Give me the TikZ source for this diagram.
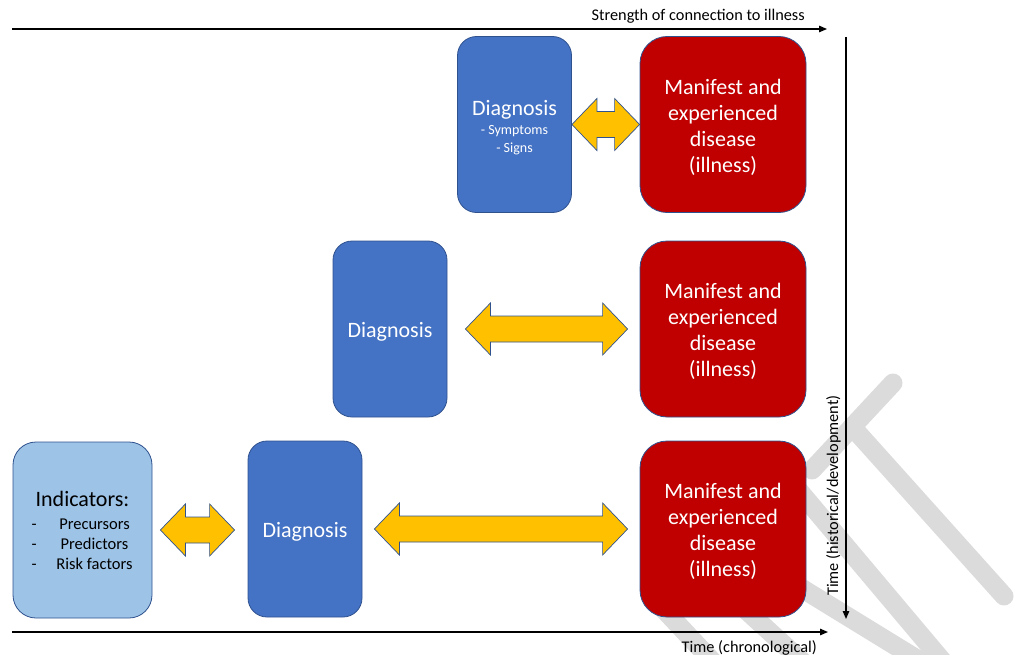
\documentclass[tikz,border=0pt]{standalone}
\usepackage{fontspec}
\setmainfont{Carlito}
\usetikzlibrary{arrows.meta,calc}

\definecolor{boxblue}{HTML}{4472C4}
\definecolor{boxred}{HTML}{C00000}
\definecolor{paleblue}{HTML}{9DC3E6}
\definecolor{gold}{HTML}{FFC000}
\definecolor{edgeblue}{HTML}{2F528F}
\definecolor{markgray}{HTML}{DBDBDB}

% yellow two-headed block arrow between two boxes
% #1 left node, #2 right node, #3 gap after left node, #4 gap before right node
\newcommand\linkarrow[4]{%
  \path[goldarrow] let \p1=($(#1.east)+(#3,0)$), \p2=($(#2.west)-(#4,0)$) in
    (\x1,\y1) -- (\x1+25pt,\y1+26pt) -- (\x1+25pt,\y1+13pt) -- (\x2-25pt,\y1+13pt)
    -- (\x2-25pt,\y1+26pt) -- (\x2,\y1) -- (\x2-25pt,\y1-26pt) -- (\x2-25pt,\y1-13pt)
    -- (\x1+25pt,\y1-13pt) -- (\x1+25pt,\y1-26pt) -- cycle;}

% one entry of the indicator list: dash, tab, centred word
\newcommand\listline[1]{\makebox[24pt][l]{-}\makebox[78pt]{#1}}
% taller first line, so that box texts sit a little lower
\newcommand\headroom{\rule{0pt}{21pt}}

\begin{document}
\begin{tikzpicture}[x=1pt,y=-1pt,
  box/.style={draw=edgeblue, line width=0.8pt, rounded corners=#1, inner sep=0pt,
    align=center, text=white},
  diagbox/.style={box=19pt, fill=boxblue, minimum width=114pt, minimum height=176pt,
    font=\fontsize{22}{26}\selectfont},
  illbox/.style={box=27pt, fill=boxred, minimum width=166pt, minimum height=176pt,
    font=\fontsize{22}{26}\selectfont},
  indbox/.style={box=23pt, fill=paleblue, text=black, minimum width=139pt,
    minimum height=176pt, font=\fontsize{16.5}{20}\selectfont},
  goldarrow/.style={fill=gold, draw=edgeblue, line width=0.7pt, line join=miter},
  axis/.style={line width=1.3pt, -{Triangle[length=8pt,width=6.5pt]}},
  axislabel/.style={inner sep=0pt, font=\fontsize{16.3}{19}\selectfont},
  wmark/.style={draw=markgray, line width=19pt, line cap=round}
]
\useasboundingbox (0,0) rectangle (1016,655);

% faint watermark strokes in the background
\draw[wmark] (812,470) -- (893,383);
\draw[wmark] (855,430) -- (1004,596);
\draw[wmark] (790,480) -- (945,664);
\draw[wmark] (780,575) -- (925,664);
\draw[wmark] (655,600) -- (715,664);
\draw[wmark] (735,600) -- (805,664);

% first row
\node[diagbox, font=\fontsize{14}{18}\selectfont] (d1) at (514.5,124.5)
  {{\fontsize{22}{26}\selectfont\headroom Diagnosis}\\[1pt]- Symptoms\\- Signs};
\node[illbox] (r1) at (723,124.5) {\headroom Manifest and\\experienced\\disease\\(illness)};

% second row
\node[diagbox] (d2) at (390,329) {\headroom Diagnosis};
\node[illbox] (r2) at (723,329) {\headroom Manifest and\\experienced\\disease\\(illness)};

% third row
\node[indbox] (ind) at (82.5,530)
  {{\fontsize{22}{26}\selectfont Indicators:}\\[3pt]
   \listline{Precursors}\\ \listline{Predictors}\\ \listline{Risk factors}};
\node[diagbox] (d3) at (305,529) {\headroom Diagnosis};
\node[illbox] (r3) at (723,529) {\headroom Manifest and\\experienced\\disease\\(illness)};

% connecting block arrows
\linkarrow{d1}{r1}{0}{0}
\linkarrow{d2}{r2}{18}{12}
\linkarrow{ind}{d3}{8}{13}
\linkarrow{d3}{r3}{12}{12}

% axes
\coordinate (topL) at (12,29);
\coordinate (topR) at (827,29);
\coordinate (vT) at (846,37);
\coordinate (vB) at (846,619);
\coordinate (botL) at (12,632);
\coordinate (botR) at (828,632);
\draw[axis] (topL) -- (topR);
\draw[axis] (vT) -- (vB);
\draw[axis] (botL) -- (botR);

\node[axislabel, anchor=base east] (strength) at (805,21) {Strength of connection to illness};
\node[axislabel, anchor=base east] (chrono) at (817,652) {Time (chronological)};
\node[axislabel, rotate=90, anchor=base west] (hist) at (838,596) {Time (historical/development)};
\end{tikzpicture}
\end{document}
